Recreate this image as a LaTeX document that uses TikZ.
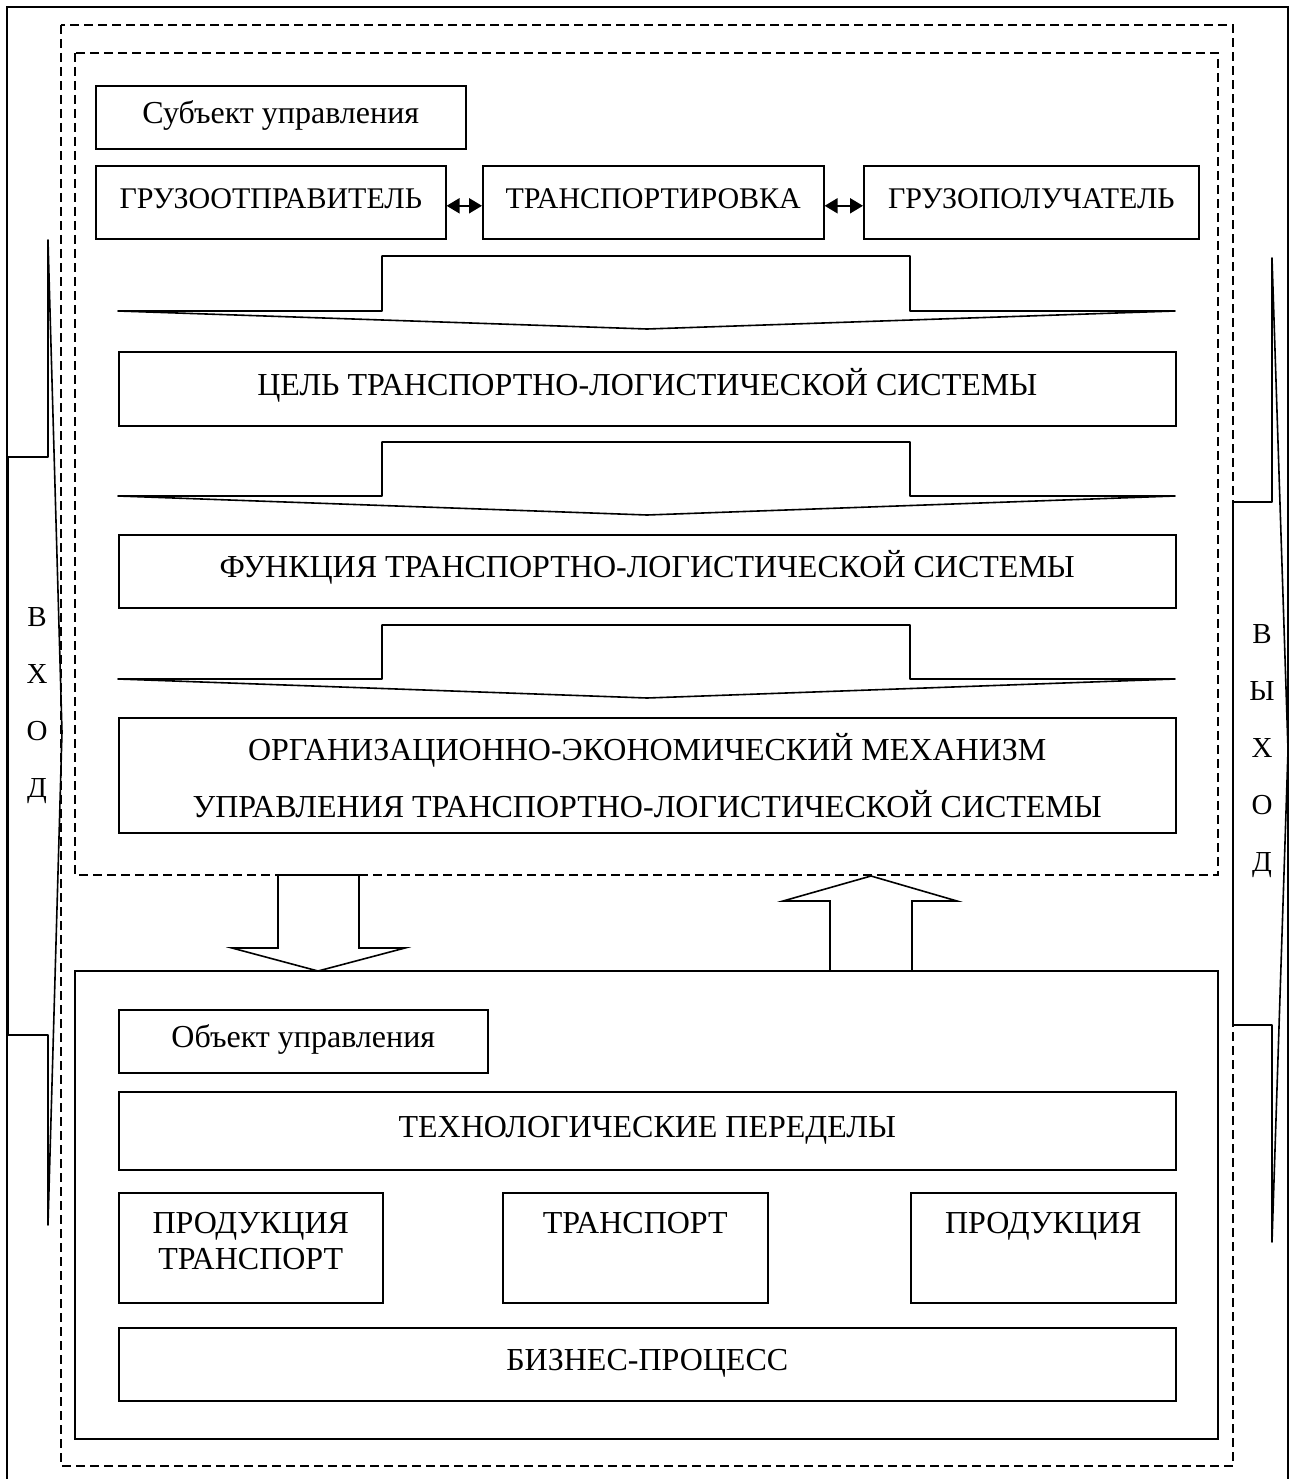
\documentclass[tikz,border=0pt]{standalone}
\usepackage{fontspec}
\setmainfont{Liberation Serif}
\usetikzlibrary{arrows.meta}
\begin{document}
\begin{tikzpicture}[x=1pt,y=-1pt, line width=1.6pt,
  box/.style={draw, inner sep=0pt, anchor=north west, font=\fontsize{32}{36}\selectfont, align=center},
  one/.style={text height=22pt, text depth=9pt},
  toprow/.style={font=\fontsize{30}{36}\selectfont},
  txt/.style={inner sep=0pt, font=\fontsize{32}{36}\selectfont, align=center},
  dframe/.style={draw, dash pattern=on 9pt off 5pt, line width=1.6pt},
  dbl/.style={{Triangle[length=13pt,width=15pt]}-{Triangle[length=13pt,width=15pt]}, line width=2pt},
  wide/.style={draw, line join=round},
  ]
\useasboundingbox (0,0) rectangle (1297,1479);
% frames
\draw (7,1479) -- (7,7) -- (1288,7) -- (1288,1479);
\draw[dframe] (61,25) rectangle (1233,1466);
\draw[dframe] (75,53) rectangle (1218,875);
\draw (75,971) rectangle (1218,1439);
% input / output callouts
\draw[line join=round] (8,457) -- (48,457) -- (48,240) -- (62,732) -- (48,1225) -- (48,1035) -- (8,1035) -- cycle;
\draw[line join=round] (1233,502) -- (1272,502) -- (1272,258) -- (1288,750) -- (1272,1242) -- (1272,1025) -- (1233,1025) -- cycle;
\node[txt, font=\fontsize{29}{57}\selectfont] (vhod) at (37,706) {В\\Х\\О\\Д};
\node[txt, font=\fontsize{29}{57}\selectfont] (vyhod) at (1262,751) {В\\Ы\\Х\\О\\Д};
% top boxes
\node[box, one, minimum width=370, minimum height=63] (sub) at (95,85) {Субъект управления};
\node[box, one, toprow, minimum width=350, minimum height=73] (gO) at (95,165) {ГРУЗООТПРАВИТЕЛЬ};
\node[box, one, toprow, minimum width=341, minimum height=73] (tr) at (482,165) {ТРАНСПОРТИРОВКА};
\node[box, one, toprow, minimum width=335, minimum height=73] (gP) at (863,165) {ГРУЗОПОЛУЧАТЕЛЬ};
\draw[dbl] ([yshift=-3.5pt]gO.east) -- ([yshift=-3.5pt]tr.west);
\draw[dbl] ([yshift=-3.5pt]tr.east) -- ([yshift=-3.5pt]gP.west);
\node[box, one, minimum width=1057, minimum height=74] (cel) at (118,351) {ЦЕЛЬ ТРАНСПОРТНО-ЛОГИСТИЧЕСКОЙ СИСТЕМЫ};
\node[box, one, minimum width=1057, minimum height=73] (fun) at (118,534) {ФУНКЦИЯ ТРАНСПОРТНО-ЛОГИСТИЧЕСКОЙ СИСТЕМЫ};
\node[box, minimum width=1057, minimum height=115, font=\fontsize{32}{57}\selectfont] (org) at (118,717) {ОРГАНИЗАЦИОННО-ЭКОНОМИЧЕСКИЙ МЕХАНИЗМ\\УПРАВЛЕНИЯ ТРАНСПОРТНО-ЛОГИСТИЧЕСКОЙ СИСТЕМЫ};
% wide arrows
\draw[wide] (118,311) -- (382,311) -- (382,256) -- (910,256) -- (910,311) -- (1175,311) -- (647,329) -- cycle;
\draw[wide] (118,496) -- (382,496) -- (382,442) -- (910,442) -- (910,496) -- (1175,496) -- (647,515) -- cycle;
\draw[wide] (118,679) -- (382,679) -- (382,625) -- (910,625) -- (910,679) -- (1175,679) -- (647,698) -- cycle;
% block arrows between levels
\draw[line join=miter] (278,875) -- (278,948) -- (232,948) -- (318,971) -- (405,948) -- (359,948) -- (359,875) -- cycle;
\draw[line join=miter] (830,971) -- (830,901) -- (783,901) -- (871,876) -- (957,901) -- (912,901) -- (912,971);
% bottom boxes
\node[box, one, minimum width=369, minimum height=63] (obj) at (118,1009) {Объект управления};
\node[box, one, minimum width=1057, minimum height=78] (teh) at (118,1091) {ТЕХНОЛОГИЧЕСКИЕ ПЕРЕДЕЛЫ};
\node[box, minimum width=264, minimum height=110] (p1) at (118,1192) {};
\node[box, minimum width=265, minimum height=110] (p2) at (502,1192) {};
\node[box, minimum width=265, minimum height=110] (p3) at (910,1192) {};
\node[txt, anchor=north] (p1t) at ([yshift=-19pt]p1.north) {ПРОДУКЦИЯ\\ТРАНСПОРТ};
\node[txt, anchor=north] (p2t) at ([yshift=-19pt]p2.north) {ТРАНСПОРТ};
\node[txt, anchor=north] (p3t) at ([yshift=-19pt]p3.north) {ПРОДУКЦИЯ};
\node[box, one, minimum width=1057, minimum height=73] (biz) at (118,1327) {БИЗНЕС-ПРОЦЕСС};
\end{tikzpicture}
\end{document}
